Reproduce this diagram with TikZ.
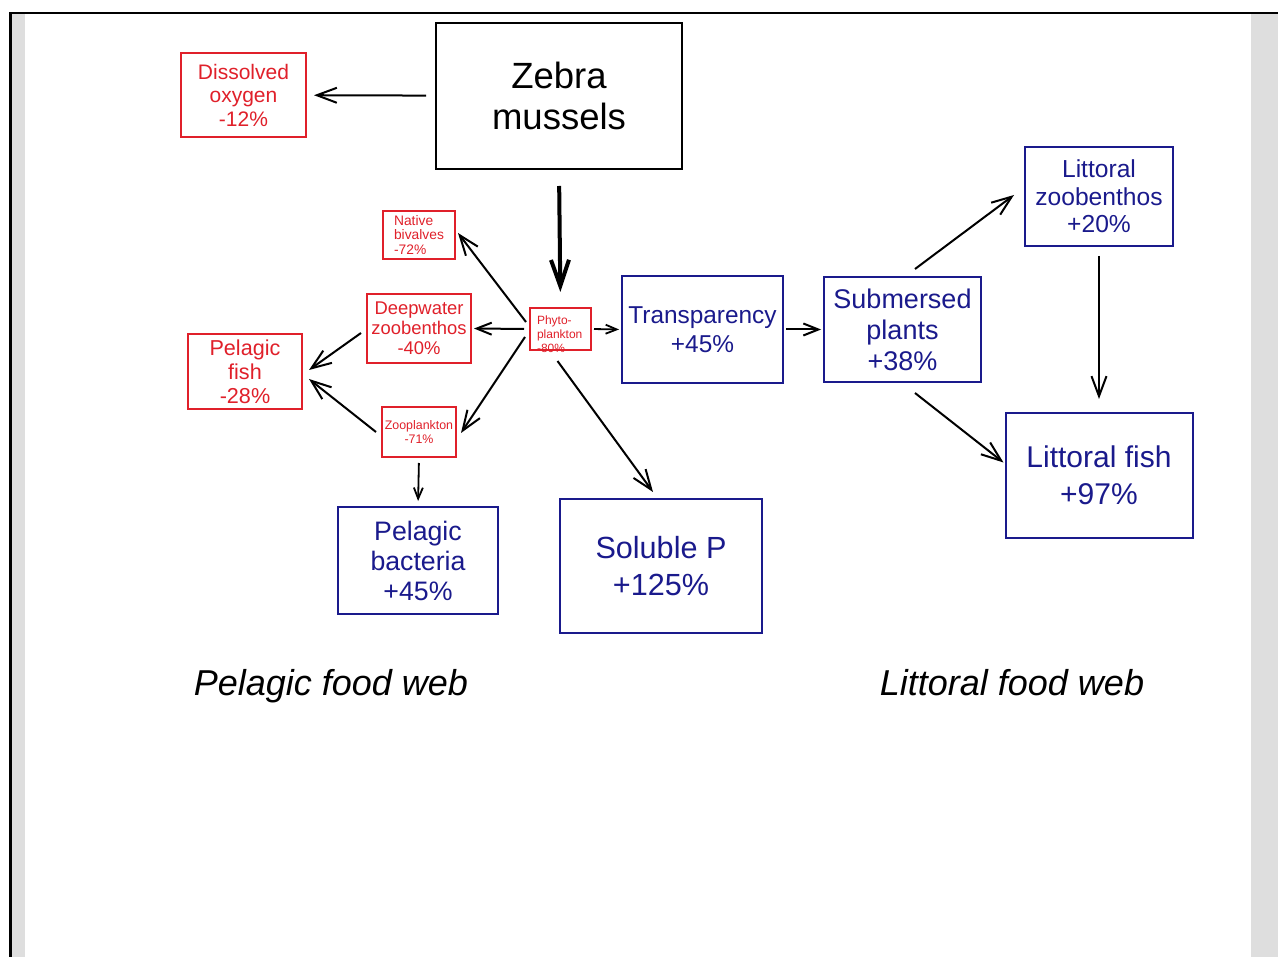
\documentclass[tikz,border=0pt]{standalone}
\usepackage{fontspec}
\setmainfont{Liberation Sans}
\usetikzlibrary{arrows.meta,calc}
\definecolor{rd}{HTML}{E0202A}
\definecolor{bl}{HTML}{1A1A8C}
\definecolor{gr}{HTML}{DEDEDE}
\begin{document}
\begin{tikzpicture}[x=1pt,y=-1pt,
  box/.style={draw,line width=2pt,inner sep=0pt,align=center},
  rbox/.style={box,draw=rd,text=rd},
  bbox/.style={box,draw=bl,text=bl},
  kbox/.style={box,draw=black,text=black},
  fs/.style n args={2}{font=\fontsize{#1}{#2}\selectfont},
  big/.style={-{Straight Barb[length=20pt,width=15pt]},line width=2pt},
  med/.style={-{Straight Barb[length=15pt,width=12pt]},line width=2pt},
  sml/.style={-{Straight Barb[length=11pt,width=9pt]},line width=1.8pt},
  heavy/.style={-{Straight Barb[length=26pt,width=18pt]},line width=4pt},
  caption/.style={anchor=base,font=\fontsize{36}{40}\selectfont\itshape}
]
% frame
\fill[white] (0,0) rectangle (1278,957);
\fill[gr] (11,14) rectangle (25,957);
\fill[gr] (1251,14) rectangle (1278,957);
\fill[black] (9,12) rectangle (1278,14.5);
\fill[black] (9,12) rectangle (11.5,957);
\useasboundingbox (0,0) rectangle (1278,957);

% nodes
\node[rbox,fs={21}{23.5},minimum width=125pt,minimum height=84pt] (dox) at (243.5,95) {Dissolved\\oxygen\\-12\%};
\node[kbox,fs={36.5}{41},minimum width=246pt,minimum height=146pt] (zebra) at (559,96) {Zebra\\mussels};
\node[rbox,fs={13.8}{14.8},align=left,minimum width=72pt,minimum height=48pt] (native) at (419,235) {Native\\bivalves\\-72\%};
\node[rbox,fs={18.4}{20},minimum width=104pt,minimum height=69pt] (deep) at (419,328.5) {Deepwater\\zoobenthos\\-40\%};
\node[rbox,fs={12}{14.2},align=left,minimum width=61pt,minimum height=42pt,text depth=0pt] (phyto) at (560.5,329) {\raisebox{5pt}{\parbox{47pt}{Phyto-\\plankton\\-80\%}}};
\node[rbox,fs={21.6}{24},minimum width=114pt,minimum height=75pt] (pfish) at (245,371.5) {Pelagic\\fish\\-28\%};
\node[rbox,fs={12.4}{13.5},minimum width=74pt,minimum height=50pt] (zoo) at (419,432) {Zooplankton\\-71\%};
\node[bbox,fs={24.4}{29},minimum width=161pt,minimum height=107pt] (transp) at (702.5,329.5) {Transparency\\+45\%};
\node[bbox,fs={27}{31},minimum width=157pt,minimum height=105pt] (subm) at (902.5,329.5) {Submersed\\plants\\+38\%};
\node[bbox,fs={24.6}{27.5},minimum width=148pt,minimum height=99pt] (lzoo) at (1099,196.5) {Littoral\\zoobenthos\\+20\%};
\node[bbox,fs={30}{37},minimum width=187pt,minimum height=125pt] (lfish) at (1099,475.5) {Littoral fish\\+97\%};
\node[bbox,fs={26.7}{30},minimum width=160pt,minimum height=107pt] (pbact) at (418,560.5) {Pelagic\\bacteria\\+45\%};
\node[bbox,fs={30.6}{37},minimum width=202pt,minimum height=134pt] (solp) at (661,566) {Soluble P\\+125\%};
\node[caption] (pcap) at (331,695) {Pelagic food web};
\node[caption] (lcap) at (1012,695) {Littoral food web};

% connectors
\draw[big,shorten <=9pt,shorten >=7pt] (zebra) -- (dox);
\draw[heavy,shorten <=16pt,shorten >=15pt] (zebra.south) -- (phyto.north);
\draw[big] ($(phyto.west)+(-3,-7)$) -- ($(native.east)+(2,-2)$);
\draw[med,shorten <=5pt,shorten >=2pt] (phyto.west) -- (deep.east);
\draw[big] ($(phyto.west)+(-4,8)$) -- ($(zoo.east)+(4,1)$);
\draw[sml,shorten <=2pt,shorten >=2pt] (phyto.east) -- (transp.west);
\draw[big] ($(phyto.south)+(-3,10)$) -- ($(solp.north)+(-8,-6)$);
\draw[big] ($(deep.west)+(-5,4.5)$) -- ($(pfish.east)+(6,-1.5)$);
\draw[big] ($(zoo.west)+(-5,0)$) -- ($(pfish.east)+(6,7.5)$);
\draw[sml,shorten <=5pt,shorten >=5pt] (zoo.south) -- (pbact.north);
\draw[med,shorten <=2pt,shorten >=2pt] (transp.east) -- (subm.west);
\draw[big] ($(subm.north)+(12.5,-7)$) -- ($(lzoo.west)+(-10,-1.5)$);
\draw[big] ($(subm.south)+(12.5,10)$) -- ($(lfish.west)+(-1,-13)$);
\draw[big,shorten <=9pt,shorten >=13pt] (lzoo.south) -- (lfish.north);
\end{tikzpicture}
\end{document}
